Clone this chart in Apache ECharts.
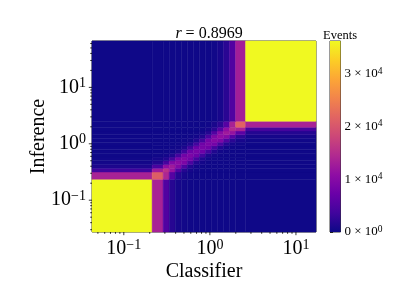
<!DOCTYPE html>
<html><head><meta charset="utf-8">
<script src="https://cdn.jsdelivr.net/npm/echarts@6/dist/echarts.min.js"></script>
<style>html,body{margin:0;padding:0;background:#fff}#c{width:407px;height:305px}</style>
</head><body><div id="c"></div>
<script>
// Bin edges (real values, log-spaced)
const xEdges = [0.0427, 0.2133, 0.2864, 0.3367, 0.3957, 0.4651, 0.5467, 0.6427, 0.7555, 0.8880, 1.0438, 1.2270, 1.4421, 1.6953, 1.9907, 2.600, 17.1];
const yEdges = [0.0273, 0.2350, 0.3162, 0.3683, 0.4287, 0.4992, 0.5813, 0.6768, 0.7880, 0.9177, 1.0686, 1.2441, 1.4488, 1.6871, 1.9634, 2.5061, 66.4];
// Counts per cell: rows = Inference bins (bottom to top), columns = Classifier bins
const counts = [
  [36200,13500,5000,1800,700,350,200,150,150,150,150,150,150,150,150,150],
  [13500,21000,14000,5500,1800,700,300,200,150,150,150,150,150,150,150,150],
  [3500,12500,15500,11500,5000,1700,600,250,150,150,150,150,150,150,150,150],
  [1200,4500,11000,12500,9500,4800,1500,500,200,150,150,150,150,150,150,150],
  [500,1500,4200,9500,10500,9000,4500,1400,500,200,150,150,150,150,150,150],
  [250,600,1400,4000,8500,9500,8000,4000,1300,400,200,150,150,150,150,150],
  [150,250,500,1300,3800,8000,9000,7500,3800,1200,400,200,150,150,150,150],
  [150,150,250,500,1200,3600,7500,8500,7500,3800,1300,400,200,150,150,150],
  [150,150,150,250,400,1200,3600,7500,8500,7800,4000,1400,500,200,150,150],
  [150,150,150,150,250,400,1300,3800,7800,9000,8200,4300,1600,600,250,150],
  [150,150,150,150,150,250,400,1400,4000,8300,9800,9000,4800,2000,800,300],
  [150,150,150,150,150,150,250,500,1500,4500,9200,11000,10000,5500,2200,700],
  [150,150,150,150,150,150,150,250,600,1700,5000,10200,12500,11500,6000,1600],
  [150,150,150,150,150,150,150,150,250,600,2000,5500,11000,14500,13500,4000],
  [150,150,150,150,150,150,150,150,150,250,900,2200,5500,13500,21500,13500],
  [150,150,150,150,150,150,150,150,150,150,250,800,2000,5000,13000,36200]
];
const xMajorTicks = [0.1, 1, 10];
const xMinorTicks = [0.05,0.06,0.07,0.08,0.09,0.2,0.3,0.4,0.5,0.6,0.7,0.8,0.9,2,3,4,5,6,7,8,9];
const yMajorTicks = [0.1, 1, 10];
const yMinorTicks = [0.03,0.04,0.05,0.06,0.07,0.08,0.09,0.2,0.3,0.4,0.5,0.6,0.7,0.8,0.9,2,3,4,5,6,7,8,9,20,30,40,50,60];
const cbarMax = 36200;
const cbarTicks = [0, 10000, 20000, 30000];
const titleText = 'r = 0.8969';

const plasma = ['#0d0887','#41049d','#6a00a8','#8f0da4','#b12a90','#cc4778','#e16462','#f2844b','#fca636','#fcce25','#f0f921'];
const FONT = 'Liberation Serif';

const cells = [];
for (let j = 0; j < counts.length; j++)
  for (let i = 0; i < counts[j].length; i++)
    cells.push([xEdges[i], xEdges[i+1], yEdges[j], yEdges[j+1], counts[j][i]]);

const xMin = xEdges[0], xMax = xEdges[xEdges.length-1];
const yMin = yEdges[0], yMax = yEdges[yEdges.length-1];
const xTickData = xMajorTicks.map(v => [v, yMin, 3.2]).concat(xMinorTicks.map(v => [v, yMin, 1.8]));
const yTickData = yMajorTicks.map(v => [xMin, v, 3.2]).concat(yMinorTicks.map(v => [xMin, v, 1.8]));

function powLabel(v) {
  const l = Math.log10(v), e = Math.round(l);
  if (Math.abs(l - e) > 1e-6) return '';
  return '{b|10}{s|' + (e < 0 ? '\u2212' + (-e) : e) + '}';
}
const tickRich = {
  b: {fontFamily: FONT, fontSize: 20, color: '#000', lineHeight: 22},
  s: {fontFamily: FONT, fontSize: 14, color: '#000', lineHeight: 14, verticalAlign: 'top', padding: [0,0,8,0]}
};

const chart = echarts.init(document.getElementById('c'), null, {renderer: 'canvas'});
chart.setOption({
  animation: false,
  backgroundColor: '#fff',
  title: [
    {text: '{i|r} = 0.8969', left: 204, top: 21, textAlign: 'center',
     textStyle: {fontFamily: FONT, fontSize: 16, fontWeight: 'normal', color: '#000',
       rich: {i: {fontFamily: FONT, fontStyle: 'italic', fontSize: 16, color: '#000'}}}},
    {text: 'Events', left: 335, top: 24, textAlign: 'center',
     textStyle: {fontFamily: FONT, fontSize: 12.5, fontWeight: 'normal', color: '#000'}}
  ],
  grid: [
    {left: 92, top: 41, width: 224, height: 191, show: true, borderColor: '#000', borderWidth: 0.8, backgroundColor: 'transparent'},
    {left: 330, top: 41, width: 10.5, height: 191, show: true, borderColor: '#000', borderWidth: 0.8, backgroundColor: 'transparent'}
  ],
  xAxis: [
    {type: 'log', logBase: 10, min: xMin, max: xMax, gridIndex: 0,
     axisLine: {show: false}, axisTick: {show: false}, splitLine: {show: false},
     axisLabel: {formatter: powLabel, rich: tickRich, margin: 6},
     name: 'Classifier', nameLocation: 'middle', nameGap: 30, nameMoveOverlap: false,
     nameTextStyle: {fontFamily: FONT, fontSize: 20, color: '#000'}},
    {type: 'value', min: 0, max: 1, gridIndex: 1, show: false}
  ],
  yAxis: [
    {type: 'log', logBase: 10, min: yMin, max: yMax, gridIndex: 0,
     axisLine: {show: false}, axisTick: {show: false}, splitLine: {show: false},
     axisLabel: {formatter: powLabel, rich: tickRich, margin: 6},
     name: 'Inference', nameLocation: 'middle', nameGap: 43, nameRotate: 90, nameMoveOverlap: false,
     nameTextStyle: {fontFamily: FONT, fontSize: 20, color: '#000'}},
    {type: 'value', min: 0, max: cbarMax, interval: 10000, gridIndex: 1, position: 'right',
     axisLine: {show: false}, splitLine: {show: false},
     axisTick: {show: true, length: 3, lineStyle: {color: '#000', width: 0.8}},
     axisLabel: {margin: 4, rich: {
        b: {fontFamily: FONT, fontSize: 13, color: '#000', lineHeight: 15},
        s: {fontFamily: FONT, fontSize: 9.5, color: '#000', lineHeight: 9, verticalAlign: 'top', padding: [0,0,5,0]}},
       formatter: v => cbarTicks.indexOf(v) < 0 ? '' : (v === 0 ? '{b|0 \u00d7 10}{s|0}' : '{b|' + (v/10000) + ' \u00d7 10}{s|4}')}}
  ],
  visualMap: {type: 'continuous', show: false, min: 0, max: cbarMax, dimension: 4, seriesIndex: 0,
    inRange: {color: plasma}},
  series: [
    {type: 'custom', xAxisIndex: 0, yAxisIndex: 0, data: cells, encode: {x: [0, 1], y: [2, 3]},
     renderItem: (params, api) => {
       const p0 = api.coord([api.value(0), api.value(2)]);
       const p1 = api.coord([api.value(1), api.value(3)]);
       return {type: 'rect', shape: {x: p0[0], y: p1[1], width: p1[0]-p0[0], height: p0[1]-p1[1]},
         style: {fill: api.visual('color'), stroke: api.visual('color'), lineWidth: 0.45}};
     }},
    {type: 'custom', xAxisIndex: 0, yAxisIndex: 0, data: xTickData, encode: {x: 0, y: 1}, silent: true,
     renderItem: (params, api) => {
       const p = api.coord([api.value(0), api.value(1)]);
       return {type: 'line', shape: {x1: p[0], y1: p[1], x2: p[0], y2: p[1] + api.value(2)},
         style: {stroke: '#000', lineWidth: 0.8}};
     }},
    {type: 'custom', xAxisIndex: 0, yAxisIndex: 0, data: yTickData, encode: {x: 0, y: 1}, silent: true,
     renderItem: (params, api) => {
       const p = api.coord([api.value(0), api.value(1)]);
       return {type: 'line', shape: {x1: p[0], y1: p[1], x2: p[0] - api.value(2), y2: p[1]},
         style: {stroke: '#000', lineWidth: 0.8}};
     }},
    {type: 'custom', xAxisIndex: 1, yAxisIndex: 1, data: [[0, 1, 0, cbarMax]], encode: {x: [0, 1], y: [2, 3]}, silent: true,
     renderItem: (params, api) => {
       const p0 = api.coord([api.value(0), api.value(2)]);
       const p1 = api.coord([api.value(1), api.value(3)]);
       return {type: 'rect', shape: {x: p0[0], y: p1[1], width: p1[0]-p0[0], height: p0[1]-p1[1]},
         style: {fill: new echarts.graphic.LinearGradient(0, 1, 0, 0,
           plasma.map((c, k) => ({offset: k / (plasma.length - 1), color: c})))}};
     }}
  ]
});
</script></body></html>
